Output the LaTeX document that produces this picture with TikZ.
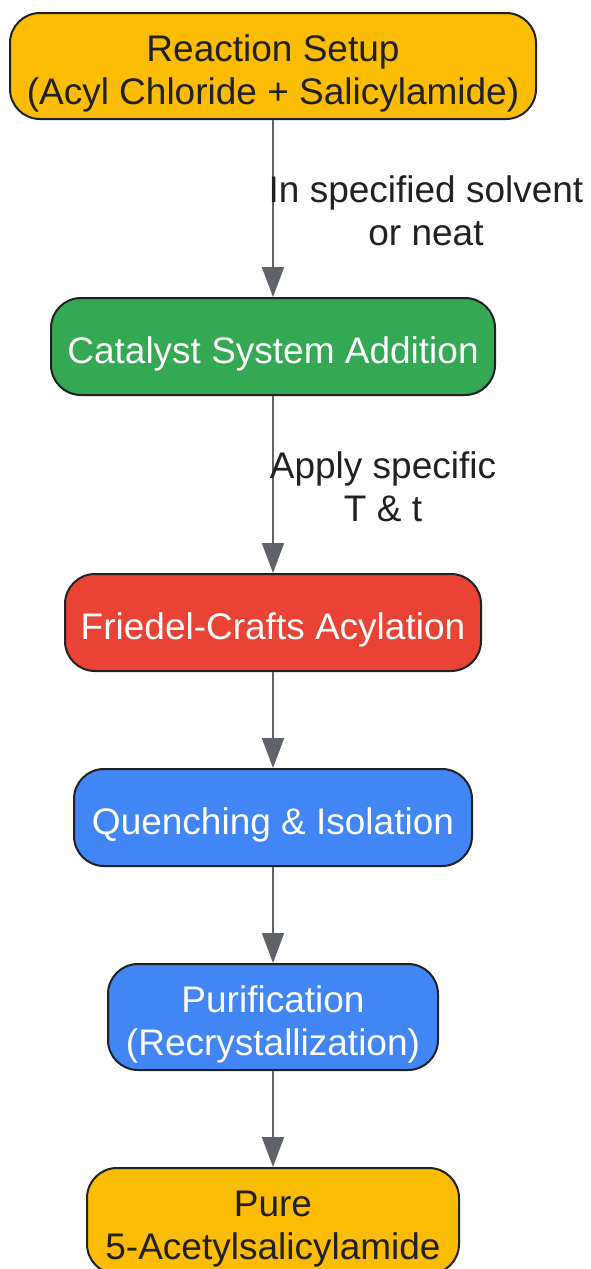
\documentclass[tikz,border=0pt]{standalone}
\usepackage{fontspec}
\setmainfont{Liberation Sans}
\usetikzlibrary{arrows.meta}
\definecolor{ink}{HTML}{202124}
\definecolor{edgegray}{HTML}{5F6368}
\definecolor{gyellow}{HTML}{FBBC04}
\definecolor{ggreen}{HTML}{34A853}
\definecolor{gred}{HTML}{EA4335}
\definecolor{gblue}{HTML}{4285F4}

\begin{document}
\begin{tikzpicture}[x=1pt,y=-1pt,
	stepbox/.style={draw=ink,line width=2pt,rounded corners=30pt,inner sep=0pt,align=center,text height=33pt,text depth=0pt,font=\fontsize{37}{43}\selectfont},
	tworows/.style={text height=76pt},
	flow/.style={draw=edgegray,line width=2pt,-{Triangle[length=30pt,width=22pt]}},
	note/.style={text=ink,align=center,font=\fontsize{37}{43}\selectfont}]
	\useasboundingbox (0,0) rectangle (591,1269);
	% boxes
	\node[stepbox,tworows,fill=gyellow,text=ink,minimum width=526pt,minimum height=106pt] (setup) at (273,66){Reaction Setup\\(Acyl Chloride + Salicylamide)};
	\node[stepbox,fill=ggreen,text=white,minimum width=444pt,minimum height=97pt] (catalyst) at (273,346.5){Catalyst System Addition};
	\node[stepbox,fill=gred,text=white,minimum width=416pt,minimum height=97pt] (acylation) at (273,622.5){Friedel-Crafts Acylation};
	\node[stepbox,fill=gblue,text=white,minimum width=398pt,minimum height=97pt] (quench) at (273,817.5){Quenching \& Isolation};
	\node[stepbox,tworows,fill=gblue,text=white,minimum width=330pt,minimum height=106pt] (purify) at (273,1017){Purification\\(Recrystallization)};
	\node[stepbox,tworows,fill=gyellow,text=ink,minimum width=372pt,minimum height=106pt] (product) at (273,1221){Pure\\5-Acetylsalicylamide};
	% arrows
	\draw[flow] (setup) -- (catalyst);
	\draw[flow] (catalyst) -- (acylation);
	\draw[flow] (acylation) -- (quench);
	\draw[flow] (quench) -- (purify);
	\draw[flow] (purify) -- (product);
	% labels
	\node[note] (solvent) at (426,211){In specified solvent\\or neat};
	\node[note] (temp) at (383,487){Apply specific\\T \& t};
\end{tikzpicture}
\end{document}
